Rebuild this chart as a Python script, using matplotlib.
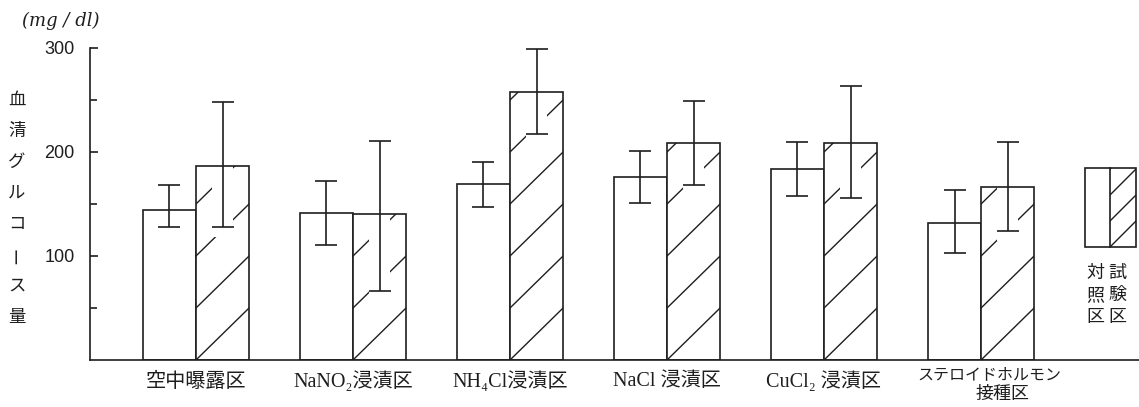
import matplotlib
matplotlib.use("Agg")
import matplotlib.pyplot as plt
from matplotlib.patches import Rectangle
from matplotlib.lines import Line2D
from matplotlib.ticker import FixedLocator

plt.rcParams['font.family'] = ['Noto Sans CJK JP', 'DejaVu Sans']

# ---- data (mg/dl) ----
categories = ["空中曝露区", "NaNO₂浸漬区", "NH₄Cl浸漬区", "NaCl 浸漬区",
              "CuCl₂ 浸漬区", "ステロイドホルモン\n接種区"]
control_mean = [144, 141, 169, 176, 184, 132]
control_high = [168, 172, 190, 201, 210, 163]
control_low = [128, 111, 147, 151, 158, 103]
test_mean = [187, 140, 258, 209, 209, 166]
test_high = [248, 211, 299, 249, 263, 210]
test_low = [128, 66, 217, 168, 156, 124]
yticks_major = [100, 200, 300]
yticks_minor = [50, 150, 250]
ylabel_chars = "血清グルコース量"
legend_labels = ["対照区", "試験区"]

INK = "#1e1e1e"
LW = 1.2
BAR_W = 0.338
HATCH_STEP = 50      # vertical spacing of the diagonal hatch lines (mg/dl)
GAP_HALF = 0.065     # half-width of the clearing around an error bar
GAP_MARGIN = 10
LABEL_FONT = ["Liberation Serif", "DejaVu Serif", "Noto Sans CJK JP"]

W, H = 1139, 407
fig = plt.figure(figsize=(W / 100, H / 100), dpi=100)
ax = fig.add_axes([90 / W, (H - 360) / H, (W - 90) / W, 312 / H])
ax.set_xlim(-0.675, 6.006)
ax.set_ylim(0, 300)

for s in ("top", "right"):
    ax.spines[s].set_visible(False)
for s in ("left", "bottom"):
    ax.spines[s].set_color(INK)
    ax.spines[s].set_linewidth(LW)

ax.set_xticks([])
ax.yaxis.set_major_locator(FixedLocator(yticks_major))
ax.yaxis.set_minor_locator(FixedLocator(yticks_minor))
ax.tick_params(axis="y", which="both", direction="in", color=INK, width=LW)
ax.tick_params(axis="y", which="major", length=6, pad=11, labelsize=13,
               labelcolor=INK)
ax.tick_params(axis="y", which="minor", length=5)
for lbl in ax.get_yticklabels():
    lbl.set_family(["Liberation Sans", "DejaVu Sans"])


def hatched_bar(x0, height, lo, hi):
    rect = Rectangle((x0, 0), BAR_W, height, facecolor="white",
                     edgecolor="none", zorder=1)
    ax.add_patch(rect)
    k = 0
    while HATCH_STEP * k < height:
        ln = Line2D([x0, x0 + BAR_W], [HATCH_STEP * k, HATCH_STEP * (k + 1)],
                    color=INK, lw=1.0, zorder=2)
        ax.add_line(ln)
        ln.set_clip_path(rect)
        k += 1
    xc = x0 + BAR_W / 2
    gap_top = min(hi, height)
    gap_bottom = lo - GAP_MARGIN
    if gap_top > gap_bottom:
        gap = Rectangle((xc - GAP_HALF, gap_bottom), 2 * GAP_HALF,
                        gap_top - gap_bottom, facecolor="white",
                        edgecolor="none", zorder=2.5)
        ax.add_patch(gap)
        gap.set_clip_path(rect)


for i in range(len(categories)):
    # control (plain) bar on the left, test (hatched) bar on the right
    ax.bar(i - BAR_W, control_mean[i], width=BAR_W, align="edge",
           facecolor="white", edgecolor=INK, linewidth=LW, zorder=1)
    hatched_bar(i, test_mean[i], test_low[i], test_high[i])
    ax.bar(i, test_mean[i], width=BAR_W, align="edge", facecolor="none",
           edgecolor=INK, linewidth=LW, zorder=3)

    for xc, m, lo, hi in ((i - BAR_W / 2, control_mean[i], control_low[i], control_high[i]),
                          (i + BAR_W / 2, test_mean[i], test_low[i], test_high[i])):
        ax.errorbar([xc], [m], yerr=[[m - lo], [hi - m]], fmt="none",
                    ecolor=INK, elinewidth=LW, capsize=8, capthick=LW,
                    zorder=4)

    lines = categories[i].split("\n")
    if len(lines) == 1:
        fig.text((90 + (i + 0.675) * 157) / W, 1 - 382 / H, lines[0],
                 ha="center", va="center", fontsize=14.5, color=INK,
                 family=LABEL_FONT)
    else:
        fig.text((90 + (i + 0.675) * 157 + 8) / W, 1 - 375 / H, lines[0],
                 ha="center", va="center", fontsize=11.5, color=INK,
                 family=LABEL_FONT)
        fig.text((90 + (i + 0.675) * 157 + 22) / W, 1 - 394 / H, lines[1],
                 ha="center", va="center", fontsize=13, color=INK,
                 family=LABEL_FONT)

# unit and vertical axis title
fig.text(22 / W, 1 - 21 / H, "(mg / dl)", fontsize=13, style="italic",
         family=["DejaVu Serif"], color=INK, va="center", ha="left")
for j, ch in enumerate(ylabel_chars):
    fig.text(17 / W, 1 - (100 + 31 * j) / H, ch, fontsize=12.5, color=INK,
             ha="center", va="center", rotation=90 if ch == "ー" else 0)

# legend key: plain | hatched box with vertical labels beneath
lx0, lx1, lxm = (1085 - 90) / 1049, (1136 - 90) / 1049, (1110 - 90) / 1049
ly0, ly1 = (360 - 247) / 312, (360 - 168) / 312
box = Rectangle((lx0, ly0), lx1 - lx0, ly1 - ly0, transform=ax.transAxes,
                facecolor="none", edgecolor=INK, lw=LW, zorder=3,
                clip_on=False)
ax.add_patch(box)
ax.add_line(Line2D([lxm, lxm], [ly0, ly1], transform=ax.transAxes, color=INK,
                   lw=LW, zorder=3, clip_on=False))
half = Rectangle((lxm, ly0), lx1 - lxm, ly1 - ly0, transform=ax.transAxes,
                 facecolor="none", edgecolor="none")
ax.add_patch(half)
step = (lx1 - lxm) * 1049 / 312
k = 0
while step * k < ly1 - ly0:
    ln = Line2D([lxm, lx1], [ly0 + step * k, ly0 + step * (k + 1)],
                transform=ax.transAxes, color=INK, lw=1.0, zorder=2)
    ax.add_line(ln)
    ln.set_clip_path(half)
    k += 1

for col, label in enumerate(legend_labels):
    for j, ch in enumerate(label):
        fig.text((1095 + 22 * col) / W, 1 - (273 + 22 * j) / H, ch,
                 fontsize=13, color=INK, ha="center", va="center")

fig.savefig("out.png", dpi=100, facecolor="white")
